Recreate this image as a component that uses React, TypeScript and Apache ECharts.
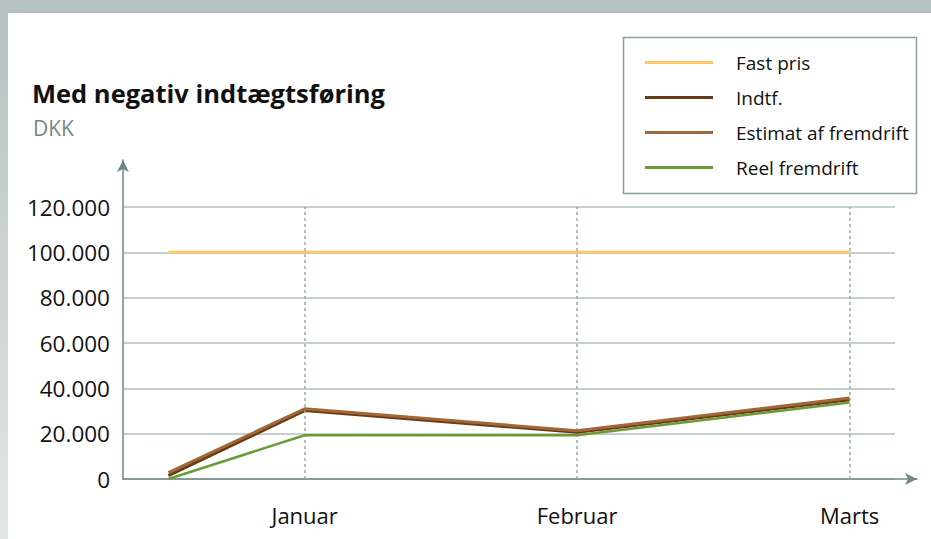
import React, { useEffect, useRef } from "react";
import * as echarts from "echarts";

const monthLabels = ["Januar", "Februar", "Marts"];
const monthPositions = [1, 2, 3];
const pointPositions = [0.5, 1, 2, 3];
const yTickStep = 20000;
const yMax = 120000;

const fastPris = [100000, 100000, 100000, 100000];
const indtf = [1500, 30200, 20600, 35000];
const estimat = [2800, 31000, 21300, 35700];
const reel = [0, 19300, 19300, 33800];

const seriesNames = ["Fast pris", "Indtf.", "Estimat af fremdrift", "Reel fremdrift"];
const seriesColors = ["#fcc86c", "#6a3a13", "#a0683a", "#6b9b37"];
const seriesWidths = [3, 3, 3, 2.5];
const seriesValues = [fastPris, indtf, estimat, reel];

const FONT = "'Open Sans', 'Noto Sans', sans-serif";

function fmt(v: number) {
  return String(Math.round(v)).replace(/\B(?=(\d{3})+(?!\d))/g, ".");
}

export default function App() {
  const ref = useRef<HTMLDivElement>(null);
  useEffect(() => {
    if (!ref.current) return;
    const chart = echarts.init(ref.current, undefined, { renderer: "svg" });
    const lineSeries = seriesNames.map((name, i) => ({
      name,
      type: "line",
      xAxisIndex: 0,
      yAxisIndex: 0,
      data: pointPositions.map((x, j) => [x, seriesValues[i][j]]),
      symbol: "none",
      showSymbol: false,
      color: seriesColors[i],
      lineStyle: { color: seriesColors[i], width: seriesWidths[i] },
      z: 3 + i,
    }));
    chart.setOption({
      animation: false,
      textStyle: { fontFamily: FONT },
      title: [
        {
          text: "Med negativ indtægtsføring",
          left: 32,
          top: 80,
          padding: 0,
          textStyle: { fontFamily: FONT, fontSize: 25.5, fontWeight: "bold", color: "#111111" },
        },
        {
          text: "DKK",
          left: 33,
          top: 117,
          padding: 0,
          textStyle: { fontFamily: FONT, fontSize: 21, fontWeight: "normal", color: "#6f8a89" },
        },
      ],
      legend: {
        data: seriesNames,
        orient: "vertical",
        left: 645,
        top: 53,
        padding: 0,
        itemGap: 16,
        itemWidth: 68,
        itemHeight: 3,
        icon: "rect",
        textStyle: { fontFamily: FONT, fontSize: 19, color: "#111111", padding: [0, 0, 0, 18] },
      },
      graphic: [
        { type: "rect", z: -10, shape: { x: 0, y: 0, width: 931, height: 13 }, style: { fill: "#b4c1c0" } },
        {
          type: "rect",
          z: -10,
          shape: { x: 0, y: 0, width: 8, height: 539 },
          style: {
            fill: new echarts.graphic.LinearGradient(0, 0, 0, 1, [
              { offset: 0, color: "#b4c1c0" },
              { offset: 1, color: "#e2e7e6" },
            ]),
          },
        },
        {
          type: "rect",
          z: -5,
          shape: { x: 623.5, y: 37.5, width: 293, height: 156 },
          style: { fill: "#ffffff", stroke: "#8a9e9d", lineWidth: 1.5 },
        },
      ],
      grid: [
        { left: 123, right: 36, top: 207, bottom: 60, outerBoundsMode: "none" },
        { left: 123, right: 14, top: 160, bottom: 60, outerBoundsMode: "none" },
      ],
      xAxis: [
        {
          type: "value",
          gridIndex: 0,
          min: 1 / 3,
          max: 19 / 6,
          axisLine: { show: false },
          axisTick: { show: false },
          splitLine: { show: false },
          axisLabel: {
            customValues: monthPositions,
            formatter: (v: number) => monthLabels[monthPositions.indexOf(Math.round(v))] ?? "",
            fontFamily: FONT,
            fontSize: 22,
            color: "#111111",
            margin: 25,
          },
        },
        {
          type: "value",
          gridIndex: 1,
          min: 0,
          max: 1,
          axisLine: {
            show: true,
            symbol: ["none", "arrow"],
            symbolSize: [9, 12],
            lineStyle: { color: "#6f8786", width: 1.5 },
          },
          axisTick: { show: false },
          axisLabel: { show: false },
          splitLine: { show: false },
        },
      ],
      yAxis: [
        {
          type: "value",
          gridIndex: 0,
          min: 0,
          max: yMax,
          interval: yTickStep,
          axisLine: { show: false },
          axisTick: { show: false },
          splitLine: { show: true, lineStyle: { color: "#b3c1c0", width: 1.5 } },
          axisLabel: {
            formatter: (v: number) => fmt(v),
            fontFamily: FONT,
            fontSize: 22.5,
            color: "#111111",
            margin: 13,
          },
        },
        {
          type: "value",
          gridIndex: 1,
          min: 0,
          max: 1,
          axisLine: {
            show: true,
            symbol: ["none", "arrow"],
            symbolSize: [9, 12],
            lineStyle: { color: "#6f8786", width: 1.5 },
          },
          axisTick: { show: false },
          axisLabel: { show: false },
          splitLine: { show: false },
        },
      ],
      series: [
        {
          name: "months",
          type: "line",
          xAxisIndex: 0,
          yAxisIndex: 0,
          data: [],
          z: 1,
          markLine: {
            silent: true,
            symbol: ["none", "none"],
            label: { show: false },
            lineStyle: { color: "#97a9a8", width: 1.5, type: [3, 3] },
            data: monthPositions.map((x) => ({ xAxis: x })),
          },
        },
        ...lineSeries,
      ],
    });
    return () => chart.dispose();
  }, []);
  return (
    <div
      ref={ref}
      style={{ position: "absolute", left: 0, top: 0, width: 931, height: 539, background: "#ffffff" }}
    />
  );
}
